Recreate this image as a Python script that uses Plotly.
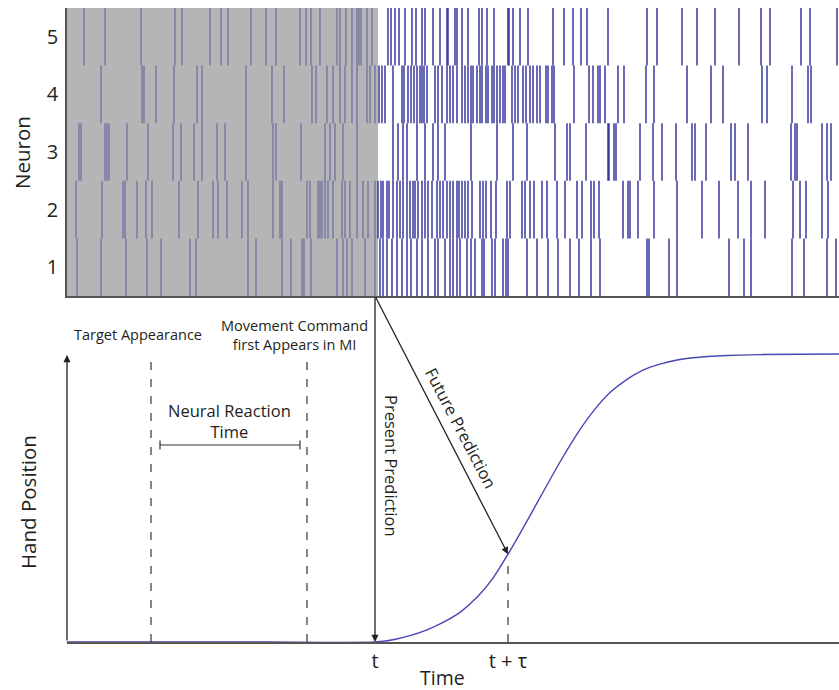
import numpy as np
import plotly.graph_objects as go

# ---------------- data ----------------
# spike times (ms) for each neuron, read from the raster
neuron1 = [10, 34, 59, 80, 94, 123, 129, 181, 189, 215, 224, 235, 237, 244,
           270, 276, 280, 285, 298, 308, 313, 316, 320, 325, 330, 335, 340, 344, 350, 355,
           361, 368, 371, 378, 383, 386, 390, 393, 400, 404, 408, 415, 417, 425, 428, 436,
           439, 441, 460, 470, 481, 491, 503, 512, 524, 533, 580, 582, 602, 610,
           662, 677, 684, 725, 737, 760, 769]
neuron2 = [9, 35, 56, 58, 70, 79, 85, 112, 131, 146, 151, 160, 175, 181, 206, 213, 215,
           240, 243, 251, 253, 255, 258, 261, 266, 275, 278, 283, 290, 296, 301, 308, 311,
           314, 316, 320, 322, 326, 330, 333, 336, 340, 343, 346, 348, 351, 355, 358, 361,
           365, 370, 373, 376, 380, 383, 386, 390, 392, 395, 398, 401, 405, 413, 416, 419,
           424, 429, 440, 443, 455, 458, 463, 467, 475, 480, 490, 498, 510, 515, 524, 527,
           532, 556, 561, 563, 571, 587, 610, 635, 652, 671, 684, 698, 726, 733, 739, 755, 761]
neuron3 = [12, 14, 38, 40, 42, 60, 81, 106, 114, 127, 135, 150, 158, 179, 206, 209, 234,
           258, 263, 268, 276, 290, 326, 331, 336, 340, 350, 358, 366, 371, 378, 404, 430,
           446, 460, 488, 500, 503, 519, 541, 542, 547, 549, 573, 586, 595, 609, 625, 628,
           639, 664, 668, 681, 724, 728, 730, 755, 760, 764]
neuron4 = [34, 75, 77, 89, 107, 130, 135, 179, 205, 217, 245, 249, 260, 266, 273, 278,
           285, 290, 300, 303, 308, 312, 315, 318, 326, 335, 337, 341, 344, 347, 350, 353,
           355, 357, 360, 368, 371, 375, 380, 383, 386, 390, 395, 398, 401, 404, 406, 410,
           413, 415, 419, 421, 425, 427, 430, 433, 436, 438, 445, 448, 451, 456, 459, 463,
           466, 470, 473, 479, 481, 485, 487, 507, 522, 526, 531, 533, 538, 551, 557, 579,
           587, 620, 644, 656, 695, 700, 725, 741, 744]
neuron5 = [17, 38, 74, 108, 115, 143, 154, 161, 184, 199, 209, 233, 239, 244, 253, 270,
           273, 279, 285, 290, 292, 294, 300, 305, 321, 324, 328, 332, 338, 345, 349, 355,
           358, 366, 373, 380, 381, 388, 390, 395, 401, 412, 415, 420, 427, 441, 442, 446,
           453, 461, 486, 497, 506, 514, 520, 541, 580, 590, 615, 630, 648, 672, 694, 703,
           734, 743, 770]
spikes = [neuron1, neuron2, neuron3, neuron4, neuron5]
neuron_labels = ["1", "2", "3", "4", "5"]

# hand position trajectory (normalised)
hand_time = [0, 100, 200, 308, 326, 343, 360, 376, 393, 410, 426, 441, 460, 476, 493,
             510, 526, 543, 560, 576, 593, 610, 626, 660, 693, 772]
hand_pos = [0, 0, 0, 0, 0.008, 0.022, 0.042, 0.068, 0.103, 0.155, 0.222, 0.305, 0.420,
            0.520, 0.625, 0.722, 0.800, 0.866, 0.912, 0.944, 0.965, 0.979, 0.987, 0.995,
            0.998, 1.0]

target_time = 84      # target appearance
command_time = 240    # movement command first appears in MI
t_now = 308           # present time t
t_future = 441        # t + tau
shade_end = 311       # end of grey (past) window
time_max = 772

# ---------------- figure ----------------
W, H = 839, 690
ML = 67
top_dom = [1 - 296 / H, 1 - 8 / H]
bot_dom = [1 - 642 / H, 1 - 296 / H]
y2_top = 346 / 288.0   # hand position value at top of the lower panel
arrow_top = 287 / 288.0

txt = "#231f20"
axis_col = "#555555"
spike_past = "rgb(116,116,164)"
spike_now = "rgb(42,42,152)"
curve_col = "#4646b4"
font = "Open Sans"

fig = go.Figure()

# raster
for past in (True, False):
    xs, ys = [], []
    for i, st in enumerate(spikes):
        n = i + 1
        for s in st:
            if (s < shade_end) == past:
                xs += [s, s, None]
                ys += [n - 0.5, n + 0.5, None]
    fig.add_trace(go.Scatter(x=xs, y=ys, mode="lines",
                             line=dict(color=spike_past if past else spike_now, width=1.4),
                             xaxis="x", yaxis="y", hoverinfo="skip", showlegend=False))

# hand position curve
fig.add_trace(go.Scatter(x=hand_time, y=hand_pos, mode="lines",
                         line=dict(color=curve_col, width=1.4, shape="spline", smoothing=0.6),
                         xaxis="x2", yaxis="y2", hoverinfo="skip", showlegend=False))

shapes = []
# grey past window
shapes.append(dict(type="rect", xref="x", yref="y", x0=0, x1=shade_end, y0=0.5, y1=5.5,
                   fillcolor="#b5b5b5", line=dict(width=0), layer="below"))
# dashed event lines
dash = "8px,9px"
for xv in (target_time, command_time):
    shapes.append(dict(type="line", xref="x2", yref="y2", x0=xv, x1=xv, y0=0, y1=arrow_top,
                       line=dict(color="#444", width=1.3, dash=dash)))
fut_val = float(np.interp(t_future, hand_time, hand_pos))
shapes.append(dict(type="line", xref="x2", yref="y2", x0=t_future, x1=t_future, y0=0, y1=fut_val - 0.01,
                   line=dict(color="#444", width=1.3, dash=dash)))
# reaction-time bracket
br_y = 0.684
br_x0, br_x1 = target_time + 9, command_time - 7
shapes.append(dict(type="line", xref="x2", yref="y2", x0=br_x0, x1=br_x1, y0=br_y, y1=br_y,
                   line=dict(color="#333", width=1.2)))
for xv in (br_x0, br_x1):
    shapes.append(dict(type="line", xref="x2", yref="y2", x0=xv, x1=xv, y0=br_y - 0.016, y1=br_y + 0.016,
                       line=dict(color="#333", width=1.2)))

ann = []
# y-axis arrow of lower panel
ann.append(dict(xref="x2", yref="y2", axref="x2", ayref="y2", x=0, y=arrow_top, ax=0, ay=0,
                showarrow=True, arrowhead=2, arrowsize=1.1, arrowwidth=1.3, arrowcolor="#222", text=""))
# present prediction arrow
ann.append(dict(xref="x2", yref="y2", axref="x2", ayref="y2", x=t_now, y=0, ax=t_now, ay=y2_top,
                showarrow=True, arrowhead=2, arrowsize=1.1, arrowwidth=1.3, arrowcolor="#222", text=""))
# future prediction arrow
ann.append(dict(xref="x2", yref="y2", axref="x2", ayref="y2", x=t_future, y=fut_val, ax=t_now, ay=y2_top,
                showarrow=True, arrowhead=2, arrowsize=1.1, arrowwidth=1.3, arrowcolor="#222", text=""))

def label(text, x, y, size, xref="x2", yref="y2", angle=0, xanchor="center", yanchor="middle"):
    ann.append(dict(text=text, x=x, y=y, xref=xref, yref=yref, showarrow=False, textangle=angle,
                    xanchor=xanchor, yanchor=yanchor, font=dict(family=font, size=size, color=txt)))

label("Target Appearance", 71, 1.069, 14.5)
label("Movement Command<br>first Appears in MI", 227, 1.066, 14.5)
label("Neural Reaction<br>Time", 162, 0.767, 16.5)
label("Present Prediction", 325, 0.611, 16.5, angle=90)
label("Future Prediction", 394, 0.745, 16.5, angle=62.4)
label("Time", 375, 1 - 677 / H, 19.5, yref="paper")
label("Hand Position", (28 - ML) / (W - ML), 1 - 502 / H, 20.5, xref="paper", yref="paper", angle=-90)
label("Neuron", (22 - ML) / (W - ML), 1 - 153 / H, 20.5, xref="paper", yref="paper", angle=-90)

fig.update_layout(
    width=W, height=H, margin=dict(l=ML, r=0, t=0, b=0),
    paper_bgcolor="white", plot_bgcolor="white",
    shapes=shapes, annotations=ann, showlegend=False,
    xaxis=dict(domain=[0, 1], range=[0, time_max], anchor="y", showgrid=False, zeroline=False,
               showline=True, linecolor=axis_col, linewidth=1.5, showticklabels=False, ticks=""),
    yaxis=dict(domain=top_dom, range=[0.5, 5.5], anchor="x", showgrid=False, zeroline=False,
               showline=True, linecolor=axis_col, linewidth=1.5, ticks="",
               tickvals=[1, 2, 3, 4, 5], ticktext=neuron_labels, ticklabelstandoff=3,
               tickfont=dict(family=font, size=20, color=txt)),
    xaxis2=dict(domain=[0, 1], range=[0, time_max], anchor="y2", showgrid=False, zeroline=False,
                showline=True, linecolor=axis_col, linewidth=1.5, ticks="",
                tickvals=[t_now, t_future], ticktext=["t", "t + τ"],
                tickfont=dict(family=font, size=20, color=txt)),
    yaxis2=dict(domain=bot_dom, range=[0, y2_top], anchor="x2", showgrid=False, zeroline=False,
                showline=False, showticklabels=False, ticks=""),
)

fig.write_html("out.html", config={"displayModeBar": False},
               post_script="document.body.style.margin='0px';")
